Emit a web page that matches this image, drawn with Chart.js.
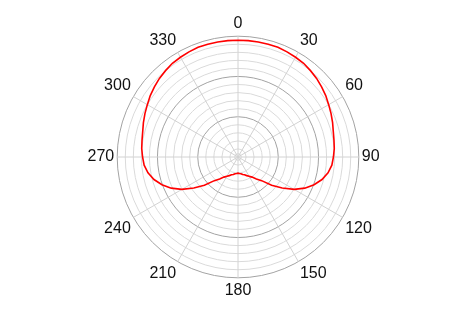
<!DOCTYPE html>
<html>
<head>
<meta charset="utf-8">
<script src="https://cdn.jsdelivr.net/npm/chart.js@4"></script>
<style>
  html, body { margin: 0; padding: 0; background: #fff; }
  #wrap { width: 470px; height: 316px; }
</style>
</head>
<body>
<div id="wrap"><canvas id="chart" width="470" height="316"></canvas></div>
<script>
// angles in degrees, 0 at top, clockwise
const angles = [];
for (let a = 0; a < 360; a += 5) angles.push(a);

// response (dB) for 0..180, the other half is the mirror
const halfResponse = [
  -1.0, -1.0, -1.0, -1.0, -1.0, -1.2, -1.4, -1.6, -2.0, -2.4,   // 0..45
  -2.9, -3.4, -4.0, -4.5, -5.0, -5.5, -5.8, -6.0, -6.3, -6.6,   // 50..95
  -7.3, -8.4, -9.9, -11.7, -13.9, -16.6, -19.1, -21.7, -22.9, -23.9, // 100..145
  -24.5, -24.9, -25.3, -25.5, -25.8, -25.9, -26.0                // 150..180
];
const response = angles.map(a => halfResponse[a <= 180 ? a / 5 : (360 - a) / 5]);

// ring values of the radial grid
const rings = [-30, -29.2, -28, -26, -24, -22, -20, -18, -16, -14, -12, -10, -8, -6, -4, -2, 0];
const majorRings = [-20, -10, 0];
const angleLabels = [0, 30, 60, 90, 120, 150, 180, 210, 240, 270, 300, 330];

new Chart(document.getElementById('chart'), {
  type: 'radar',
  data: {
    labels: angles,
    datasets: [{
      data: response,
      borderColor: '#ff0000',
      borderWidth: 1.6,
      fill: false,
      pointRadius: 0,
      tension: 0
    }]
  },
  options: {
    responsive: false,
    animation: false,
    layout: { padding: { top: 14, bottom: 16, left: 7, right: 0 } },
    plugins: { legend: { display: false }, tooltip: { enabled: false } },
    scales: {
      r: {
        min: -30,
        max: 0,
        afterBuildTicks: (s) => { s.ticks = rings.map(v => ({ value: v })); },
        ticks: { display: false },
        grid: {
          circular: true,
          color: (ctx) => majorRings.includes(ctx.tick.value) ? '#a3a3a3' : '#dadada',
          lineWidth: 1
        },
        angleLines: {
          color: '#d2d2d2',
          lineWidth: (ctx) => angleLabels.includes(angles[ctx.index]) ? 1 : 0
        },
        pointLabels: {
          padding: 3,
          color: '#111',
          font: { family: 'Arial, "Liberation Sans", sans-serif', size: 16 },
          callback: (label) => angleLabels.includes(label) ? String(label) : ''
        }
      }
    }
  }
});
</script>
</body>
</html>
